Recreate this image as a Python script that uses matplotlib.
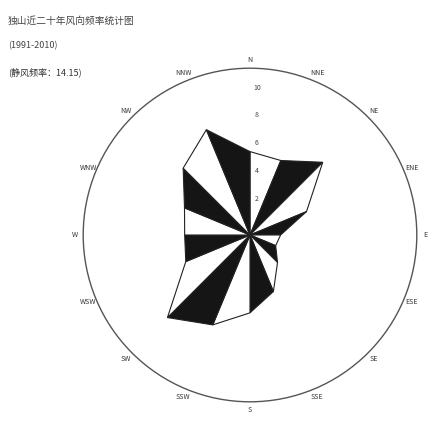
import numpy as np
import matplotlib.pyplot as plt
from matplotlib.patches import Circle

plt.rcParams['font.family'] = ['Noto Sans CJK SC', 'DejaVu Sans']

directions = ['N', 'NNE', 'NE', 'ENE', 'E', 'ESE', 'SE', 'SSE',
              'S', 'SSW', 'SW', 'WSW', 'W', 'WNW', 'NW', 'NNW']
freq = [6.0, 5.8, 7.4, 4.4, 2.2, 2.0, 2.8, 4.4,
        5.6, 7.0, 8.4, 5.0, 4.7, 5.1, 6.8, 8.2]
ring_ticks = [2, 4, 6, 8, 10]
r_max = 12
title = '独山近二十年风向频率统计图'
period = '(1991-2010)'
calm = 14.15

fig = plt.figure(figsize=(4.3, 4.24), dpi=100)
ax = fig.add_axes([0, 0, 1, 1])
# 1 unit of frequency = 13.9 px, rose centred at (250, 235) px
px = 13.9
ax.set_xlim(-250 / px, 180 / px)
ax.set_ylim(-189 / px, 235 / px)
ax.axis('off')

theta = np.deg2rad(np.arange(16) * 22.5)
xs = np.array(freq) * np.sin(theta)
ys = np.array(freq) * np.cos(theta)

# alternating black / white wedges between neighbouring directions
for i in range(16):
    j = (i + 1) % 16
    color = '#151515' if i % 2 == 1 else 'white'
    ax.fill([0, xs[i], xs[j]], [0, ys[i], ys[j]], facecolor=color,
            edgecolor='#222222', linewidth=0.8, zorder=3)

ax.add_patch(Circle((0, 0), r_max, fill=False, edgecolor='#555555',
                    linewidth=1.0, zorder=2))

for r in ring_ticks:
    ax.text(0.5, r + 0.6, str(r), fontsize=5, color='#444444',
            ha='center', va='center', zorder=4)

for d, t in zip(directions, theta):
    rr = 12.6
    ax.text(rr * np.sin(t), rr * np.cos(t), d, fontsize=5, color='#333333',
            ha='center', va='center')

fig.text(8 / 430, 1 - 21 / 424, title, fontsize=7, color='#444444',
         ha='left', va='center')
fig.text(8 / 430, 1 - 46 / 424, period, fontsize=6.5, color='#444444',
         ha='left', va='center')
fig.text(8 / 430, 1 - 72 / 424, '(静风频率：%.2f)' % calm, fontsize=6.5,
         color='#333333', ha='left', va='center')

fig.savefig('out.png', dpi=100)
